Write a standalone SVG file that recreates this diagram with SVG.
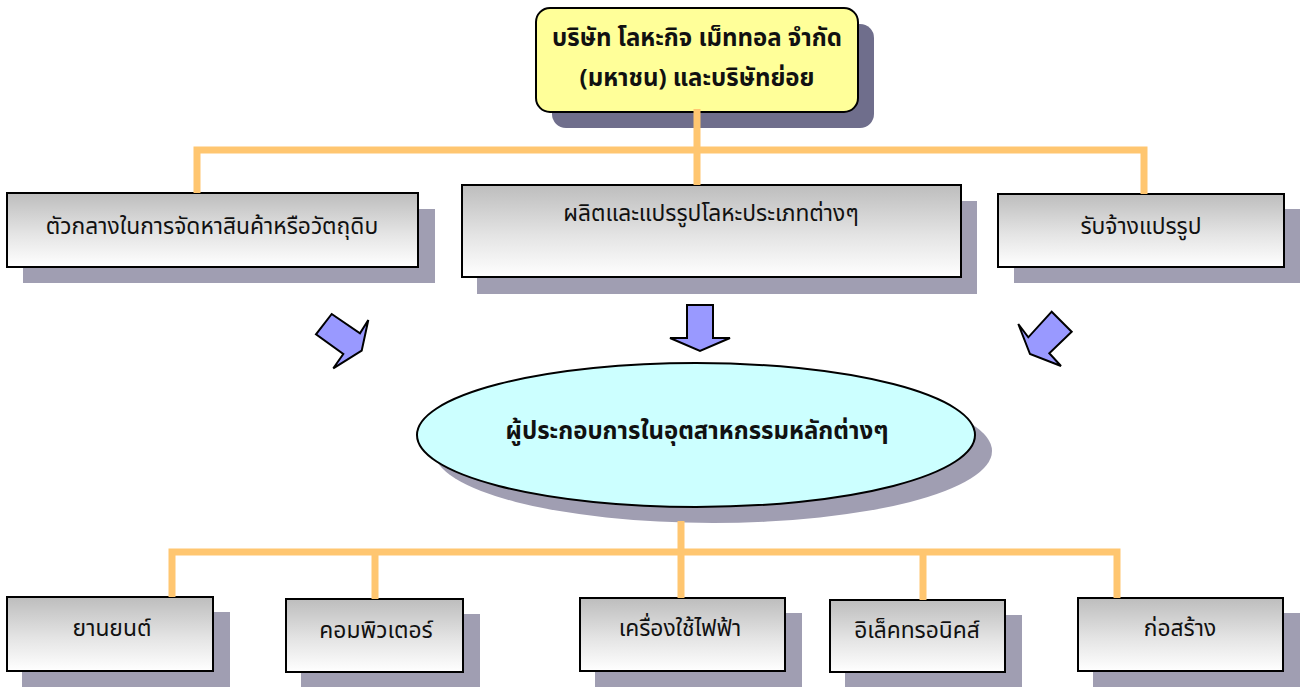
<svg xmlns="http://www.w3.org/2000/svg" width="1303" height="687" viewBox="0 0 1303 687">
<defs>
<linearGradient id="gray" x1="0" y1="0" x2="0" y2="1">
<stop offset="0" stop-color="#BDBDBD"/>
<stop offset="0.55" stop-color="#E4E4E4"/>
<stop offset="1" stop-color="#FFFFFF"/>
</linearGradient>
</defs>
<style>
.shadow{fill:#A09EB2}
.shadowDark{fill:#6F6E8C}
.box{fill:url(#gray);stroke:#000;stroke-width:2}
.txt{font-family:"Noto Sans Thai","Noto Sans","DejaVu Sans",sans-serif;font-size:22.8px;fill:#111;text-anchor:middle;dominant-baseline:central}
.bold{font-weight:bold;font-size:24px}
.conn{fill:none;stroke:#FFC670;stroke-width:7;stroke-linejoin:miter}
.arrow{fill:#9999FF;stroke:#000;stroke-width:2;stroke-linejoin:miter}
</style>
<rect width="1303" height="687" fill="#FFFFFF"/>

<g id="company">
<rect class="shadowDark" x="552" y="24" width="322" height="104" rx="14"/>
<rect x="536" y="8" width="322" height="104" rx="14" fill="#FFFF99" stroke="#000" stroke-width="2"/>
<text class="txt bold" x="697" y="39">บริษัท โลหะกิจ เม็ททอล จำกัด</text>
<text class="txt bold" x="697" y="79">(มหาชน) และบริษัทย่อย</text>
</g>

<g id="trading">
<rect class="shadow" x="23" y="209" width="412" height="74"/>
<rect class="box" x="7" y="193" width="411" height="74"/>
<text class="txt" x="212" y="227">ตัวกลางในการจัดหาสินค้าหรือวัตถุดิบ</text>
</g>

<g id="production">
<rect class="shadow" x="477" y="201" width="500" height="93"/>
<rect class="box" x="462" y="185" width="499" height="92"/>
<text class="txt" x="711" y="214">ผลิตและแปรรูปโลหะประเภทต่างๆ</text>
</g>

<g id="contract">
<rect class="shadow" x="1014" y="209" width="286" height="74"/>
<rect class="box" x="998" y="194" width="286" height="73"/>
<text class="txt" x="1141" y="227">รับจ้างแปรรูป</text>
</g>

<g id="industry">
<ellipse cx="713" cy="451" rx="279" ry="72" fill="#A09EB2"/>
<ellipse cx="696" cy="435" rx="279" ry="72" fill="#CCFFFF" stroke="#000" stroke-width="2"/>
<text class="txt bold" x="697" y="432">ผู้ประกอบการในอุตสาหกรรมหลักต่างๆ</text>
</g>

<g id="automotive">
<rect class="shadow" x="22" y="612" width="208" height="80"/>
<rect class="box" x="7" y="597" width="206" height="74"/>
<text class="txt" x="112" y="629">ยานยนต์</text>
</g>

<g id="computer">
<rect class="shadow" x="301" y="614" width="179" height="80"/>
<rect class="box" x="286" y="599" width="177" height="73"/>
<text class="txt" x="376" y="631">คอมพิวเตอร์</text>
</g>

<g id="appliance">
<rect class="shadow" x="595" y="613" width="207" height="80"/>
<rect class="box" x="580" y="598" width="205" height="73"/>
<text class="txt" x="680" y="629">เครื่องใช้ไฟฟ้า</text>
</g>

<g id="electronics">
<rect class="shadow" x="845" y="615" width="177" height="80"/>
<rect class="box" x="830" y="600" width="175" height="72"/>
<text class="txt" x="917" y="631">อิเล็คทรอนิคส์</text>
</g>

<g id="construction">
<rect class="shadow" x="1093" y="613" width="207" height="80"/>
<rect class="box" x="1078" y="598" width="205" height="73"/>
<text class="txt" x="1180" y="629">ก่อสร้าง</text>
</g>

<g id="connectors">
<path class="conn" d="M697 109 V150 M197 193 V150 H1144 V194 M697 150 V185"/>
<path class="conn" d="M681 521 V552 M172 597 V552 H1117 V598 M375 552 V599 M681 552 V598 M923 552 V600"/>
</g>

<g id="arrows">
<polygon class="arrow" points="331.7,314 360,333.3 368.3,320 361.7,350.7 333.3,368.3 343.3,354 316,334.3"/>
<polygon class="arrow" points="687,305 713,305 713,338 730,338 700,351 670,338 687,338"/>
<polygon class="arrow" points="1051.7,311.7 1071.7,331.7 1049.3,353.3 1061,366 1030,354 1018.3,324 1028.3,337.3"/>
</g>
</svg>
